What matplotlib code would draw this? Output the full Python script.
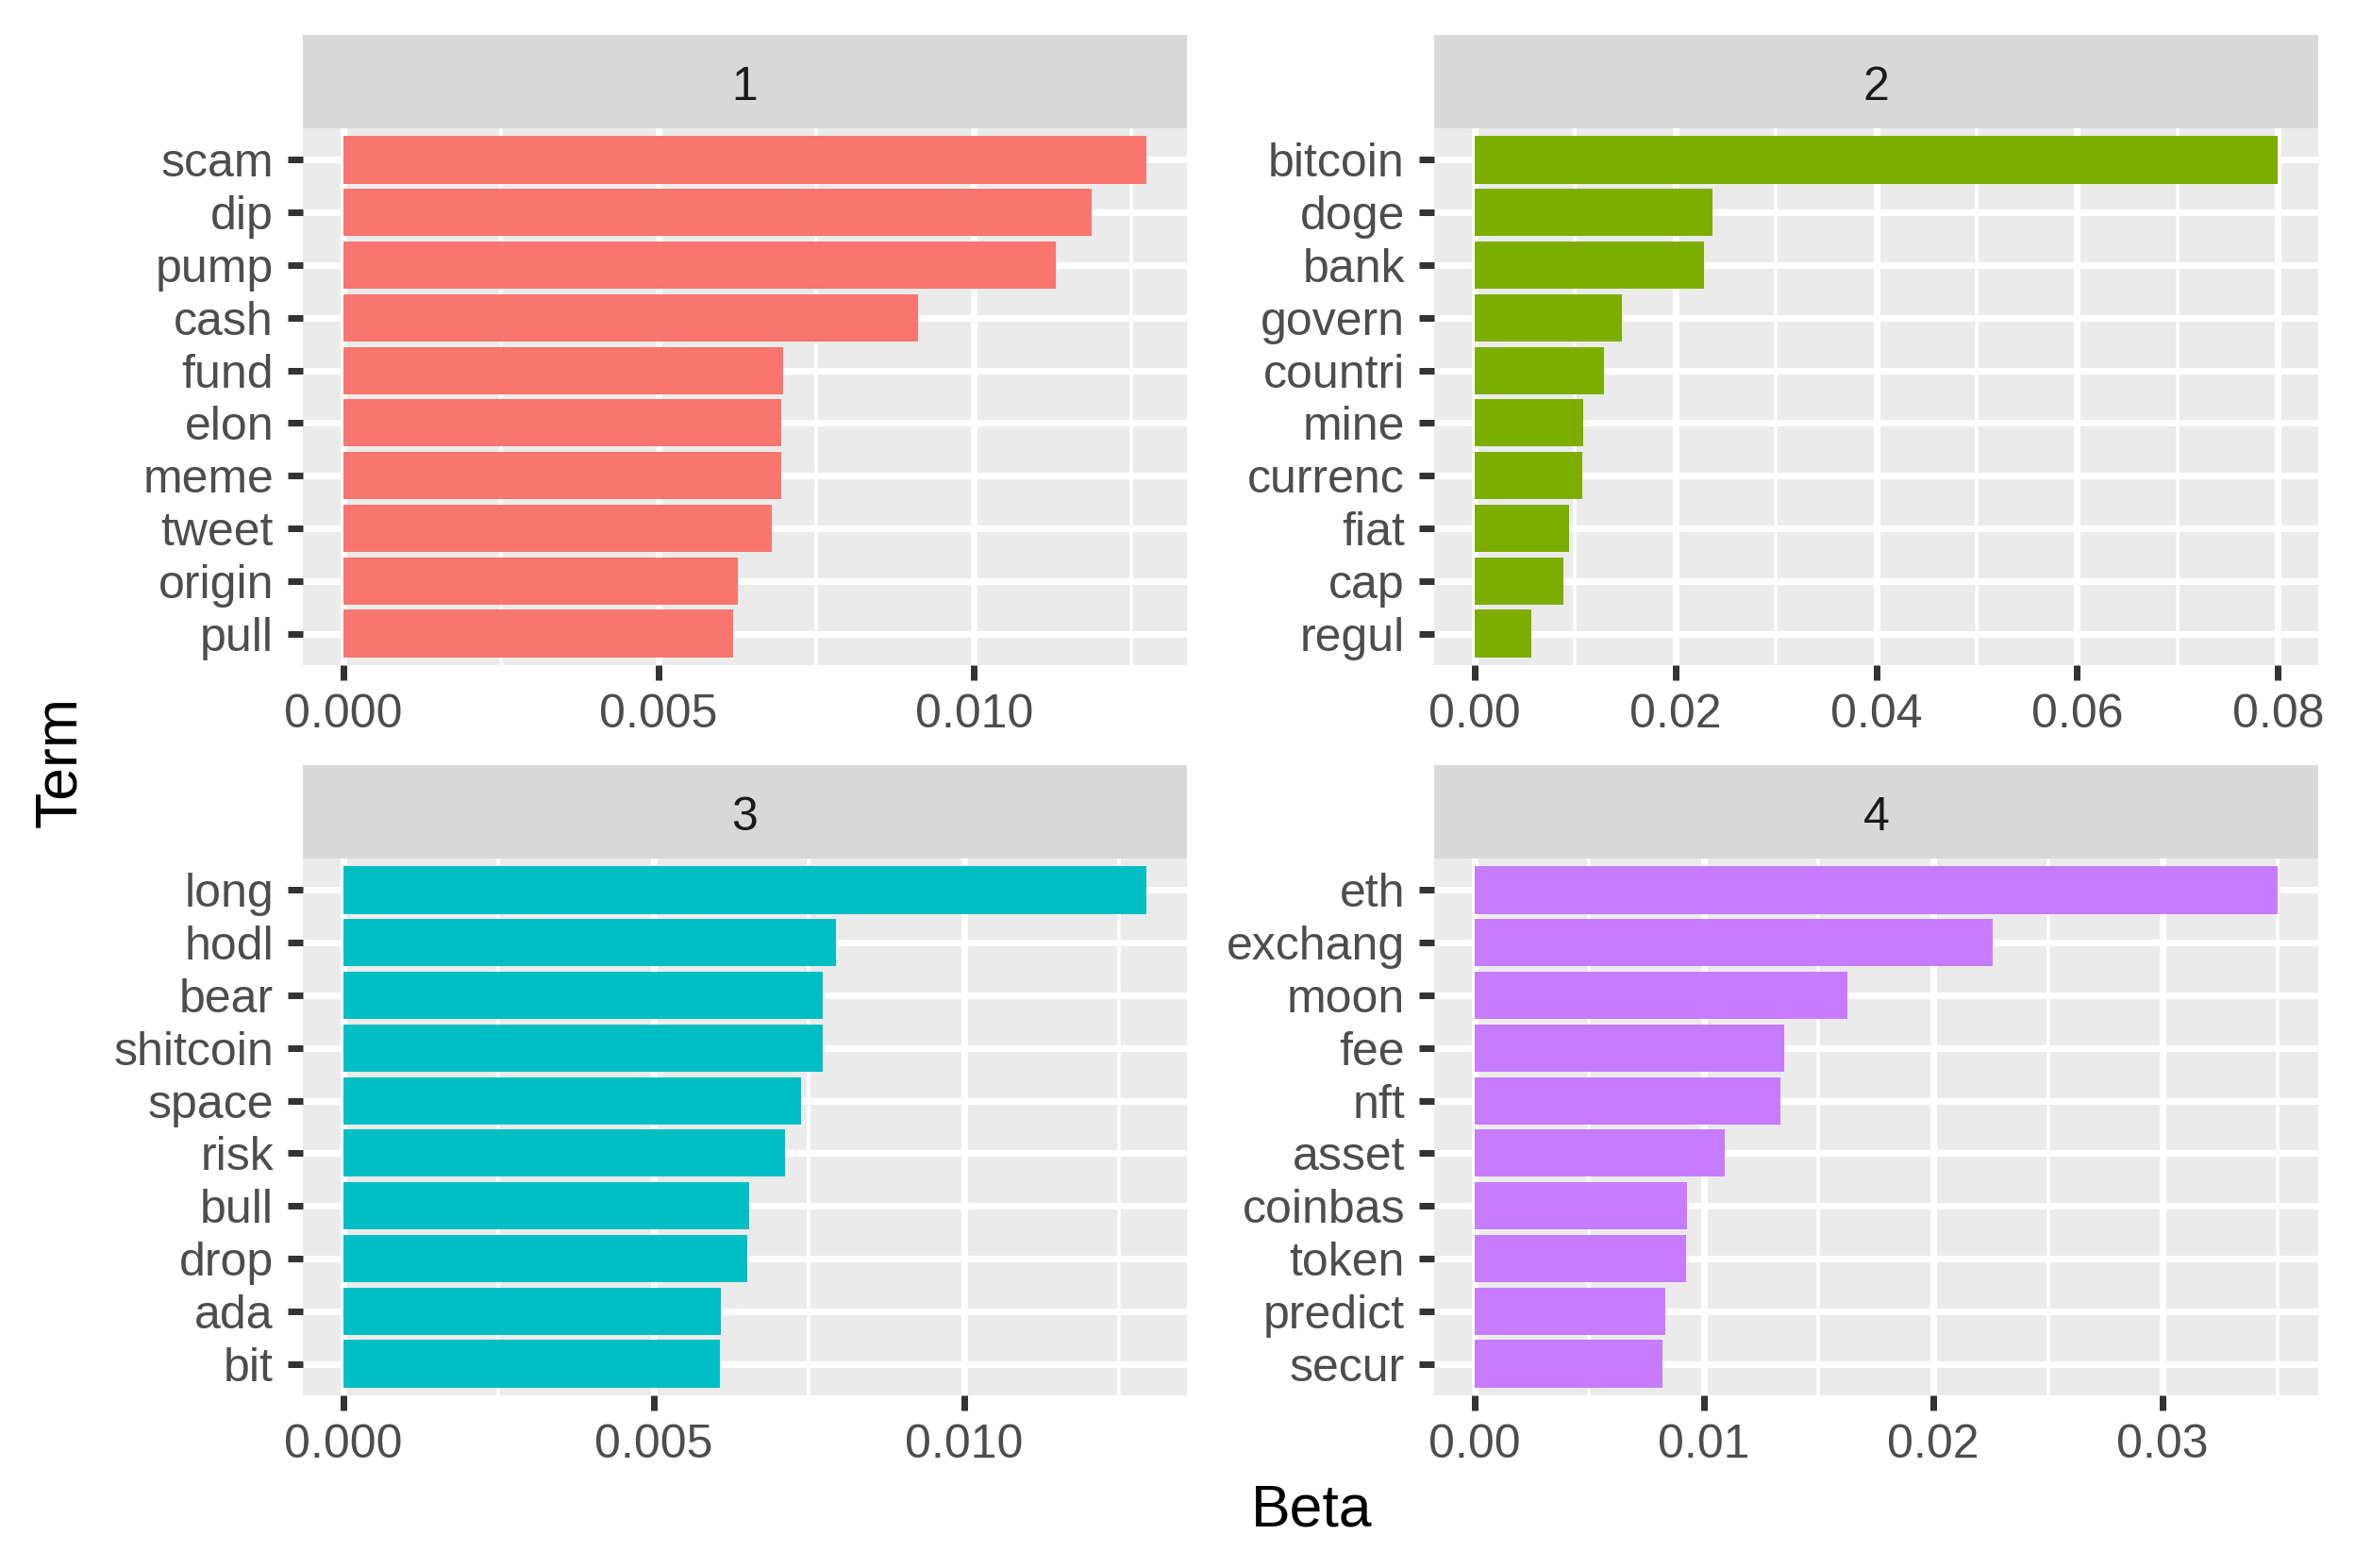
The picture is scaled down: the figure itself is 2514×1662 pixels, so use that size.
import matplotlib
matplotlib.use('Agg')
import matplotlib.pyplot as plt
from matplotlib.ticker import FixedLocator, FormatStrFormatter

# top words per topic (beta), largest first
topics = ['1', '2', '3', '4']

terms1 = ['scam', 'dip', 'pump', 'cash', 'fund', 'elon', 'meme', 'tweet', 'origin', 'pull']
beta1 = [0.01274, 0.01186, 0.01130, 0.00911, 0.00698, 0.00694, 0.00694, 0.00679, 0.00626, 0.00618]

terms2 = ['bitcoin', 'doge', 'bank', 'govern', 'countri', 'mine', 'currenc', 'fiat', 'cap', 'regul']
beta2 = [0.0800, 0.02368, 0.02284, 0.01470, 0.01292, 0.01086, 0.01076, 0.00945, 0.00889, 0.00571]

terms3 = ['long', 'hodl', 'bear', 'shitcoin', 'space', 'risk', 'bull', 'drop', 'ada', 'bit']
beta3 = [0.01294, 0.00794, 0.00772, 0.00772, 0.00738, 0.00712, 0.00654, 0.00651, 0.00609, 0.00606]

terms4 = ['eth', 'exchang', 'moon', 'fee', 'nft', 'asset', 'coinbas', 'token', 'predict', 'secur']
beta4 = [0.03503, 0.02261, 0.01627, 0.01352, 0.01336, 0.01090, 0.00928, 0.00921, 0.00832, 0.00819]

colors = ['#F8766D', '#7CAE00', '#00BFC4', '#C77CFF']

major_ticks = [
    [0.0, 0.005, 0.010],
    [0.0, 0.02, 0.04, 0.06, 0.08],
    [0.0, 0.005, 0.010],
    [0.0, 0.01, 0.02, 0.03],
]
minor_ticks = [
    [0.0025, 0.0075, 0.0125],
    [0.01, 0.03, 0.05, 0.07],
    [0.0025, 0.0075, 0.0125],
    [0.005, 0.015, 0.025, 0.035],
]
fmts = ['%.3f', '%.2f', '%.3f', '%.2f']

plt.rcParams['font.family'] = ['Liberation Sans', 'DejaVu Sans']

fig = plt.figure(figsize=(8.38, 5.54), dpi=300)

W, H = 2514.0, 1662.0
cols = [321, 1520]
rows = [(37, 136, 705), (811, 910, 1479)]  # strip top, panel top, panel bottom
pw = 937

all_terms = [terms1, terms2, terms3, terms4]
all_beta = [beta1, beta2, beta3, beta4]

for i in range(4):
    r, c = divmod(i, 2)
    st, pt, pb = rows[r]
    left = cols[c] / W
    ax = fig.add_axes([left, 1 - pb / H, pw / W, (pb - pt) / H])
    sx = fig.add_axes([left, 1 - pt / H, pw / W, (pt - st) / H])

    terms = all_terms[i][::-1]
    vals = all_beta[i][::-1]
    ax.barh(terms, vals, height=0.9, color=colors[i], zorder=3)

    vmax = max(vals)
    ax.set_xlim(-0.05 * vmax, 1.05 * vmax)
    ax.set_ylim(-0.6, len(terms) - 0.4)

    ax.set_facecolor('#EBEBEB')
    for s in ax.spines.values():
        s.set_visible(False)
    ax.xaxis.set_major_locator(FixedLocator(major_ticks[i]))
    ax.xaxis.set_minor_locator(FixedLocator(minor_ticks[i]))
    ax.xaxis.set_major_formatter(FormatStrFormatter(fmts[i]))
    ax.grid(True, which='major', color='white', linewidth=1.68, zorder=0)
    ax.grid(True, which='minor', axis='x', color='white', linewidth=0.84, zorder=0)
    ax.set_axisbelow(True)
    ax.tick_params(axis='both', which='major', length=3.84, width=1.68, color='#333333',
                   labelcolor='#4D4D4D', labelsize=12)
    ax.tick_params(axis='x', pad=3.4)
    ax.tick_params(axis='y', pad=3.6)
    ax.tick_params(which='minor', length=0)
    for lab in ax.get_yticklabels():
        lab.set_va('center_baseline')

    sx.set_facecolor('#D9D9D9')
    sx.set_xticks([])
    sx.set_yticks([])
    for s in sx.spines.values():
        s.set_visible(False)
    sx.text(0.5, 0.303, topics[i], ha='center', va='baseline', fontsize=12,
            color='#1A1A1A', transform=sx.transAxes)

fig.text(1390 / W, 1 - 1617 / H, 'Beta', ha='center', va='baseline', fontsize=15, color='black')
fig.text(64 / W, 1 - 808 / H, 'Term', ha='center', va='center', rotation=90, fontsize=15, color='black')

fig.savefig('out.png', dpi=300, facecolor='white')
